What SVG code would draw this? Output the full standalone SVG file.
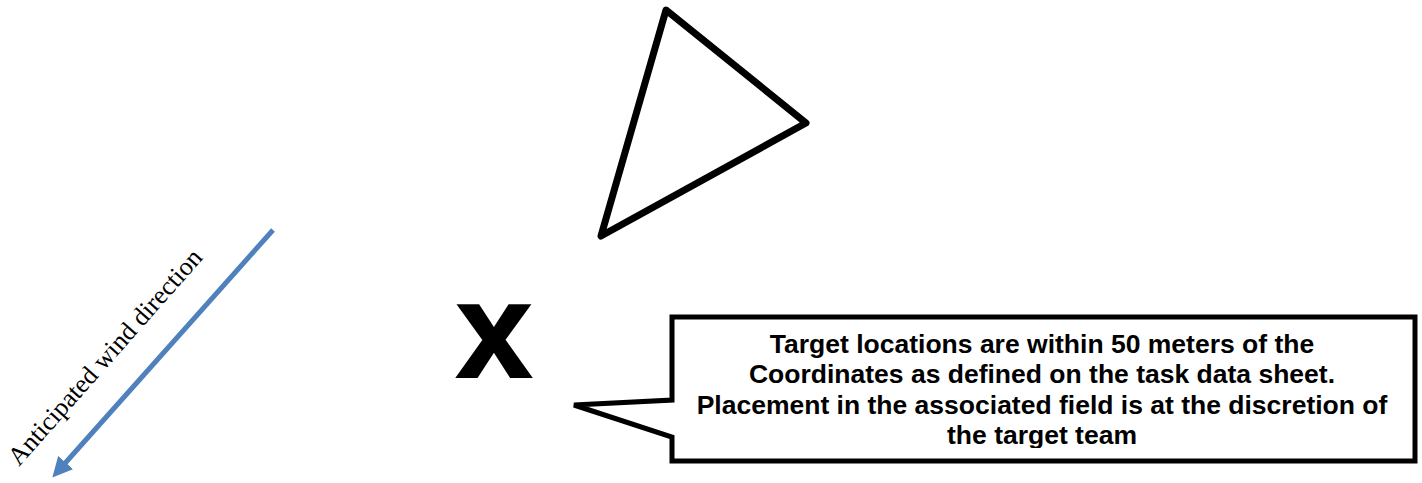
<svg xmlns="http://www.w3.org/2000/svg" width="1422" height="483" viewBox="0 0 1422 483">
<style>
.shape{fill:none;stroke:#000;stroke-width:7;stroke-linejoin:round}
.callout{fill:#fff;stroke:#000;stroke-width:5;stroke-linejoin:miter}
.ct{font-family:"Liberation Sans",Arial,sans-serif;font-weight:bold;font-size:26.5px;fill:#000;text-anchor:middle}
.wind{font-family:"Liberation Serif","Times New Roman",serif;font-size:26px;fill:#000}
</style>
<defs>
<marker id="ah" markerWidth="4" markerHeight="4" refX="2" refY="2" orient="auto" markerUnits="strokeWidth">
<path d="M0,0 L4,2 L0,4 Z" fill="#4f81bd"/>
</marker>
<clipPath id="clip-text">
<rect x="672" y="317" width="743" height="131"/>
</clipPath>
</defs>
<rect width="1422" height="483" fill="#fff"/>
<g id="triangle">
<polygon class="shape" points="666,10 806,123 601,236"/>
</g>
<g id="marker-x">
<text x="494" y="377" font-family="Liberation Sans, Arial, sans-serif" font-weight="bold" font-size="136" text-anchor="middle" stroke="#000" stroke-width="2">x</text>
</g>
<g id="wind-label">
<text class="wind" transform="translate(19,467) rotate(-48.5)">Anticipated wind direction</text>
</g>
<g id="callout">
<path class="callout" d="M672,317 L1415,317 L1415,461 L672,461 L672,437 L574,405 L672,400 Z"/>
<g clip-path="url(#clip-text)">
<text class="ct" x="1042" y="353">Target locations are within 50 meters of the</text>
<text class="ct" x="1042" y="383">Coordinates as defined on the task data sheet.</text>
<text class="ct" x="1042" y="414">Placement in the associated field is at the discretion of</text>
<text class="ct" x="1042" y="444">the target team</text>
</g>
</g>
<g id="connectors">
<line x1="273" y1="230" x2="59" y2="470" stroke="#4f81bd" stroke-width="5" marker-end="url(#ah)"/>
</g>
</svg>
